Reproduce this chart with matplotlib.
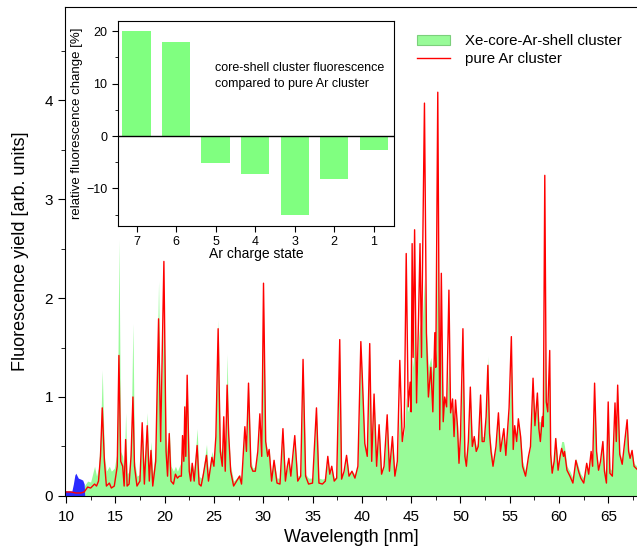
import matplotlib
matplotlib.use('Agg')
import matplotlib.pyplot as plt
from matplotlib.patches import Patch
from matplotlib.lines import Line2D
from matplotlib.ticker import MultipleLocator

plt.rcParams['font.family'] = ['Liberation Sans', 'DejaVu Sans']

# spectra (wavelength in nm, yield in arb. units)
wavelength = [
    10.0, 10.5, 11.0, 11.5, 11.85, 12.2, 12.5, 12.9, 13.1, 13.3, 13.5, 13.68, 13.9, 14.1, 14.4, 14.6, 14.9,
    15.2, 15.37, 15.55, 15.75, 15.9, 16.05, 16.2, 16.4, 16.6, 16.79, 16.95, 17.2, 17.5, 17.73, 17.95,
    18.24, 18.45, 18.62, 18.8, 19.1, 19.39, 19.6, 19.93, 20.15, 20.3, 20.47, 20.65, 20.9, 21.1, 21.3,
    21.5, 21.7, 21.82, 21.95, 22.05, 22.15, 22.29, 22.5, 22.65, 22.8, 23.0, 23.3, 23.5, 23.7, 23.9,
    24.25, 24.45, 24.8, 25.0, 25.2, 25.43, 25.65, 25.85, 26.0, 26.15, 26.34, 26.5, 26.7, 27.0, 27.3,
    27.6, 27.8, 28.14, 28.3, 28.51, 28.75, 28.95, 29.2, 29.45, 29.66, 29.85, 30.03, 30.25, 30.45, 30.6,
    30.85, 31.1, 31.4, 31.7, 32.0, 32.25, 32.45, 32.6, 32.8, 33.2, 33.5, 33.8, 34.04, 34.3, 34.6, 35.0,
    35.4, 35.65, 36.0, 36.3, 36.55, 36.75, 36.95, 37.2, 37.45, 37.76, 37.95, 38.2, 38.45, 38.7, 39.0,
    39.3, 39.6, 39.9, 40.05, 40.3, 40.55, 40.8, 41.0, 41.24, 41.5, 41.75, 42.0, 42.25, 42.57, 42.8,
    43.1, 43.35, 43.6, 43.85, 44.1, 44.3, 44.5, 44.7, 44.9, 45.0, 45.1, 45.2, 45.35, 45.55, 45.75,
    45.9, 46.05, 46.15, 46.35, 46.55, 46.75, 47.0, 47.2, 47.4, 47.5, 47.7, 47.9, 48.06, 48.25, 48.4,
    48.6, 48.83, 49.0, 49.2, 49.35, 49.5, 49.7, 49.85, 50.0, 50.25, 50.45, 50.6, 50.8, 51.0, 51.2,
    51.4, 51.6, 51.8, 52.04, 52.2, 52.4, 52.6, 52.78, 52.95, 53.1, 53.3, 53.6, 53.85, 54.05, 54.2,
    54.4, 54.6, 54.93, 55.16, 55.35, 55.5, 55.7, 55.87, 56.1, 56.3, 56.6, 56.9, 57.1, 57.36, 57.55,
    57.8, 57.95, 58.1, 58.3, 58.4, 58.55, 58.7, 58.85, 59.05, 59.15, 59.3, 59.5, 59.66, 59.9, 60.1,
    60.26, 60.45, 60.55, 60.8, 61.1, 61.4, 61.7, 62.0, 62.2, 62.5, 62.8, 63.0, 63.25, 63.4, 63.6,
    63.8, 64.0, 64.2, 64.44, 64.6, 64.8, 64.98, 65.15, 65.4, 65.67, 65.8, 65.94, 66.15, 66.4, 66.6,
    66.9, 67.05, 67.2, 67.4, 67.6, 67.9,
]

pure_ar = [
    0.04, 0.04, 0.03, 0.03, 0.04, 0.09, 0.08, 0.12, 0.10, 0.15, 0.40, 0.89, 0.35, 0.10, 0.13, 0.08, 0.10,
    0.30, 1.42, 0.35, 0.30, 0.10, 0.57, 0.10, 0.12, 0.40, 1.00, 0.30, 0.10, 0.15, 0.74, 0.12,
    0.71, 0.15, 0.46, 0.10, 0.35, 1.79, 0.55, 2.37, 0.45, 0.20, 0.63, 0.15, 0.12, 0.22, 0.18,
    0.20, 0.20, 0.61, 0.35, 0.90, 0.40, 1.22, 0.25, 0.15, 0.33, 0.15, 0.51, 0.12, 0.10, 0.20,
    0.41, 0.15, 0.39, 0.30, 0.60, 1.69, 0.45, 0.30, 0.80, 0.25, 1.12, 0.62, 0.25, 0.10, 0.15,
    0.20, 0.12, 0.70, 0.45, 1.14, 0.30, 0.25, 0.25, 0.45, 0.83, 0.40, 2.15, 0.55, 0.40, 0.47,
    0.15, 0.36, 0.13, 0.12, 0.68, 0.15, 0.30, 0.38, 0.20, 0.61, 0.15, 0.20, 1.38, 0.20, 0.12, 0.13,
    0.89, 0.13, 0.12, 0.15, 0.40, 0.22, 0.30, 0.15, 0.18, 1.58, 0.17, 0.25, 0.41, 0.20, 0.25,
    0.18, 0.30, 1.56, 1.20, 0.53, 0.40, 1.54, 0.35, 1.03, 0.30, 0.72, 0.22, 0.30, 0.82, 0.25,
    0.60, 0.20, 0.35, 1.37, 0.55, 0.70, 2.45, 0.90, 1.15, 0.85, 2.55, 1.40, 2.69, 0.94, 1.80,
    2.55, 1.40, 2.30, 3.97, 1.65, 1.00, 1.30, 0.85, 1.65, 1.30, 4.08, 0.67, 2.25, 0.75, 1.00,
    0.90, 2.08, 0.84, 0.98, 0.60, 0.97, 0.70, 0.33, 0.60, 1.69, 0.40, 0.30, 0.55, 1.10, 0.50,
    0.60, 0.45, 0.50, 1.02, 0.55, 0.55, 0.80, 1.32, 0.63, 0.45, 0.30, 0.50, 0.84, 0.45, 0.55,
    0.68, 0.41, 0.89, 1.61, 0.47, 0.71, 0.55, 0.78, 0.60, 0.30, 0.20, 0.40, 0.50, 1.19, 0.71,
    1.04, 0.68, 0.55, 0.80, 0.70, 3.24, 0.95, 0.85, 1.47, 0.42, 0.23, 0.35, 0.58, 0.26, 0.40,
    0.48, 0.40, 0.45, 0.26, 0.20, 0.13, 0.36, 0.24, 0.18, 0.13, 0.33, 0.22, 0.45, 0.30, 1.14,
    0.45, 0.26, 0.35, 0.55, 0.25, 0.13, 0.95, 0.23, 0.20, 0.94, 0.55, 1.12, 0.42, 0.32, 0.50,
    0.77, 0.45, 0.38, 0.46, 0.30, 0.27,
]

core_shell = [
    0.0, 0.0, 0.0, 0.0, 0.10, 0.15, 0.14, 0.30, 0.20, 0.28, 0.60, 1.27, 0.40, 0.25, 0.30, 0.25, 0.28,
    0.45, 2.59, 0.45, 0.40, 0.25, 0.84, 0.22, 0.25, 0.55, 1.74, 0.35, 0.20, 0.22, 0.74, 0.20,
    0.84, 0.25, 0.55, 0.22, 0.50, 2.17, 0.60, 1.95, 0.60, 0.45, 0.68, 0.30, 0.25, 0.30, 0.25,
    0.30, 0.35, 0.60, 0.45, 1.00, 0.50, 1.15, 0.35, 0.25, 0.33, 0.25, 0.68, 0.20, 0.18, 0.25,
    0.52, 0.22, 0.45, 0.35, 0.65, 1.78, 0.50, 0.40, 0.75, 0.35, 1.43, 0.60, 0.30, 0.15, 0.18,
    0.22, 0.18, 0.70, 0.45, 1.10, 0.35, 0.28, 0.30, 0.45, 0.80, 0.45, 1.90, 0.55, 0.45, 0.47,
    0.22, 0.35, 0.18, 0.18, 0.65, 0.20, 0.30, 0.38, 0.22, 0.58, 0.20, 0.22, 1.30, 0.22, 0.18, 0.18,
    0.85, 0.18, 0.17, 0.18, 0.38, 0.22, 0.28, 0.18, 0.20, 1.45, 0.20, 0.25, 0.40, 0.22, 0.25,
    0.22, 0.30, 1.45, 1.15, 0.50, 0.40, 1.45, 0.35, 1.00, 0.30, 0.70, 0.25, 0.30, 0.78, 0.28,
    0.58, 0.25, 0.35, 0.90, 0.55, 0.65, 1.00, 0.85, 1.00, 0.90, 1.40, 1.30, 1.85, 0.95, 1.60,
    1.75, 1.55, 1.80, 2.20, 1.65, 1.30, 1.40, 1.20, 1.55, 1.40, 2.70, 1.10, 1.60, 0.90, 1.00,
    0.90, 1.40, 0.84, 0.95, 0.65, 0.90, 0.70, 0.40, 0.60, 1.40, 0.45, 0.40, 0.55, 1.00, 0.55,
    0.60, 0.50, 0.55, 0.95, 0.60, 0.60, 0.80, 1.41, 0.65, 0.50, 0.35, 0.50, 0.80, 0.50, 0.55,
    0.65, 0.45, 0.85, 1.40, 0.50, 0.70, 0.55, 0.75, 0.60, 0.35, 0.25, 0.40, 0.50, 1.10, 0.75,
    1.00, 0.75, 0.75, 0.85, 0.85, 1.60, 0.95, 0.90, 1.20, 0.45, 0.30, 0.40, 0.60, 0.30, 0.45,
    0.55, 0.55, 0.50, 0.30, 0.25, 0.18, 0.38, 0.28, 0.22, 0.18, 0.33, 0.25, 0.45, 0.32, 1.00,
    0.45, 0.28, 0.35, 0.55, 0.28, 0.18, 0.85, 0.28, 0.25, 0.85, 0.60, 1.05, 0.45, 0.35, 0.50,
    0.75, 0.48, 0.40, 0.45, 0.33, 0.30,
]

# short-wavelength part shown in blue
xe_wavelength = [9.9, 10.3, 10.6, 10.75, 10.9, 11.0, 11.1, 11.25, 11.5, 11.7, 11.85, 11.9]
xe_yield = [0.05, 0.05, 0.05, 0.12, 0.21, 0.23, 0.21, 0.18, 0.17, 0.16, 0.12, 0.0]

# inset data
charge_states = ['7', '6', '5', '4', '3', '2', '1']
rel_change = [20.1, 18.0, -5.2, -7.2, -15.1, -8.1, -2.6]

green = '#98FB98'
fig = plt.figure(figsize=(6.37, 5.48), dpi=100)
ax = fig.add_axes([0.102, 0.095, 0.898, 0.892])

ax.fill_between(wavelength, core_shell, color=green, lw=0)
ax.fill_between(xe_wavelength, xe_yield, color='#2b2bff', lw=0)
ax.plot(wavelength, pure_ar, color='#ff0000', lw=1.0)

ax.set_xlim(9.9, 67.9)
ax.set_ylim(0, 4.94)
ax.xaxis.set_major_locator(MultipleLocator(5))
ax.xaxis.set_minor_locator(MultipleLocator(2.5))
ax.yaxis.set_major_locator(MultipleLocator(1))
ax.yaxis.set_minor_locator(MultipleLocator(0.5))
ax.tick_params(which='major', direction='out', length=5, labelsize=11)
ax.tick_params(axis='x', which='major', pad=5)
ax.tick_params(which='minor', direction='out', length=3)
ax.spines['right'].set_visible(False)
ax.set_xlabel('Wavelength [nm]', fontsize=13, labelpad=4)
ax.set_ylabel('Fluorescence yield [arb. units]', fontsize=13, labelpad=11)

handles = [Patch(facecolor=green, edgecolor='#7ccf7c', lw=0.8),
           Line2D([], [], color='#ff0000', lw=1.0)]
fig.legend(handles, ['Xe-core-Ar-shell cluster', 'pure Ar cluster'],
           loc='upper left', bbox_to_anchor=(0.643, 0.951), frameon=False,
           fontsize=10.8, handlelength=2.2, handletextpad=1.0,
           borderpad=0, labelspacing=0.25)

# inset bar chart
ins = fig.add_axes([0.1848, 0.5881, 0.4342, 0.3741])
pos = range(len(charge_states))
ins.bar(pos, rel_change, width=0.72, color='#80ff80', lw=0)
ins.axhline(0, color='black', lw=1.0)
ins.set_xlim(-0.48, 6.52)
ins.set_ylim(-17.1, 22)
ins.set_xticks(list(pos))
ins.set_xticklabels(charge_states)
ins.yaxis.set_major_locator(MultipleLocator(10))
ins.yaxis.set_minor_locator(MultipleLocator(5))
ins.tick_params(which='major', direction='out', length=4, labelsize=9)
ins.tick_params(which='minor', direction='out', length=2.5)
ins.set_xlabel('Ar charge state', fontsize=10, labelpad=-1)
ins.set_ylabel('relative fluorescence change [%]', fontsize=9.5, labelpad=2)
ins.text(0.35, 0.73, 'core-shell cluster fluorescence\ncompared to pure Ar cluster',
         transform=ins.transAxes, fontsize=9, va='center', linespacing=1.35)

fig.savefig('out.png', dpi=100)
